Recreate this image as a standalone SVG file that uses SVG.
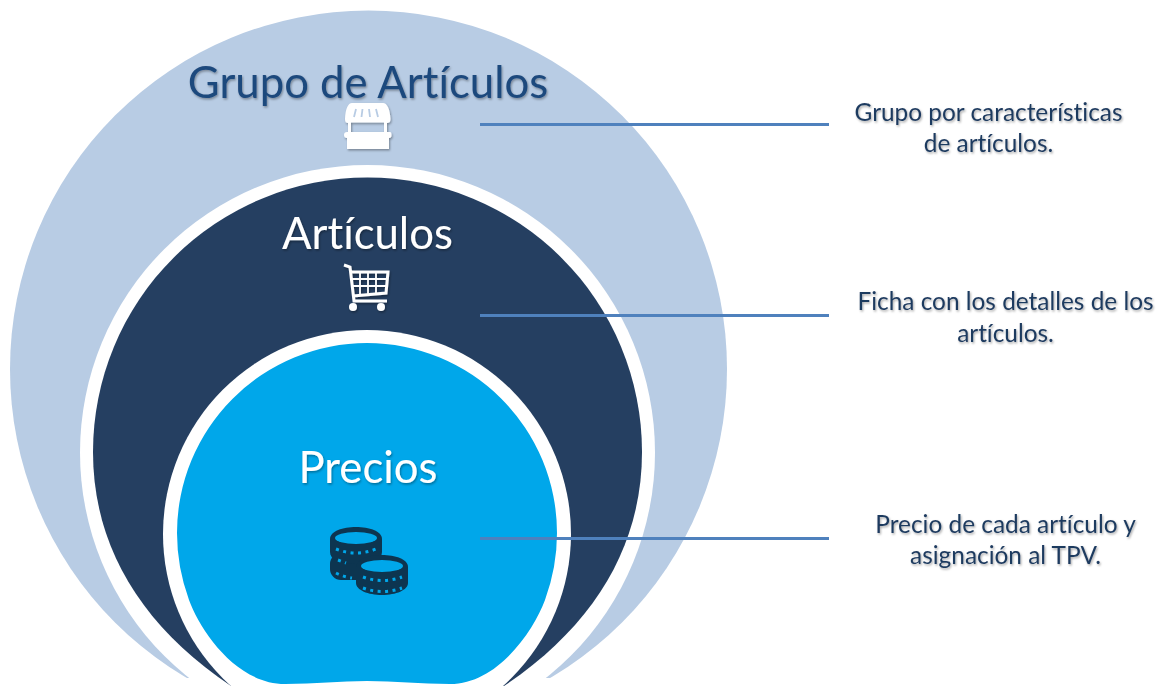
<svg xmlns="http://www.w3.org/2000/svg" width="1161" height="686" viewBox="0 0 1161 686">
<defs>
<style>
text{font-family:"Lato","Open Sans","Liberation Sans",sans-serif;text-anchor:middle;font-variant-ligatures:none}
.desc{font-size:24.400px;fill:#1f3a5f;filter:url(#ts)}
.big{font-size:43.700px;fill:#fff;filter:url(#ts)}
.conn{stroke:#4f81bd;stroke-width:3;fill:none}
.w{stroke:#fff;fill:none}
.c{fill:#0d3550}
.h{fill:#00a7ea}
</style>
<filter id="ts" x="-10%" y="-20%" width="120%" height="150%"><feDropShadow dx="1" dy="1.500" stdDeviation="1.200" flood-color="#000" flood-opacity=".35"/></filter>
</defs>
<rect width="1161" height="686" fill="#fff"/>
<g id="grupo">
<circle cx="368.500" cy="369" r="358.500" fill="#b8cce4"/>
<circle cx="367.500" cy="452.500" r="287.500" fill="#fff"/>
<rect x="100" y="678" width="540" height="8" fill="#fff"/>
<text class="big" x="368" y="97.500" style="fill:#1f497d">Grupo de Artículos</text>
<g id="icon-store" filter="url(#ts)" fill="#fff">
<path fill-rule="evenodd" d="M352 103H383C387 103 390 109 390.500 119C390.500 122 389 123 387 123V132H390C391 132 391.500 133 391.500 135C391.500 137 391 138 389 138V149H347V138C345 138 344 137 344 135C344 133 345 132 347 132H348V123C346 123 345 122 345 119C345.500 109 348 103 352 103ZM351 122.500V132H384V122.500Z"/>
<path stroke="#b8cce4" stroke-width="1.800" fill="none" d="M356 109l-2 8M362.500 109l-1 8M369 109l1 8M376 109l2 8"/>
</g>
</g>
<g id="articulos">
<path fill="#253f61" d="M93 452A274.500 274.500 0 0 1 642 452C642 545 595 625 504 686H231C140 625 93 545 93 452Z"/>
<circle cx="367" cy="534" r="204" fill="#fff"/>
<text class="big" x="367.500" y="249">Artículos</text>
<g id="icon-cart" filter="url(#ts)">
<path class="w" stroke-width="3" d="M344 265L350 267L354 301H387"/>
<path class="w" stroke-width="3" d="M351 272H388L386 293L353 296"/>
<path class="w" stroke-width="1.800" d="M352 279H387M352 286H387M360 272V295M368 272V295M376 272V294"/>
<circle cx="353" cy="307" r="4" fill="#fff"/><circle cx="381" cy="307" r="4" fill="#fff"/>
</g>
</g>
<g id="precios">
<path class="h" d="M177 533A190 190 0 0 1 557 533Q557 567 545 600C534 630 498 684 450 684C420 684 395 681 367 681C340 681 315 684 285 684C236 684 200 630 189 600Q177 567 177 533Z"/>
<text class="big" x="368" y="482.500">Precios</text>
<g id="icon-coins">
<rect class="c" x="330" y="553" width="55" height="27" rx="11"/>
<path class="c" d="M330 539C330 523 382 523 382 539V552C382 560 372 564 356 564C340 564 330 560 330 552Z"/>
<ellipse class="h" cx="356" cy="538" rx="21" ry="6"/>
<path class="c" d="M356 567C356 551 408 551 408 567V583C408 590 396 595 382 595C368 595 356 590 356 583Z"/>
<ellipse class="h" cx="382" cy="566" rx="21" ry="6"/>
<path stroke="#00a7ea" stroke-width="3" stroke-dasharray="3 4.500" fill="none" d="M336 549Q356 557 376 549M336 573Q344 577 352 578M363 577Q382 584 402 577M363 588Q382 595 402 588M338 560L346 563"/>
</g>
</g>
<g id="connectors">
<path class="conn" d="M480 124.500H829"/>
<path class="conn" d="M480 315.500H829"/>
<path class="conn" d="M480 538.500H829"/>
</g>
<g id="desc-1"><text class="desc" x="988.500" y="120.500">Grupo por características</text><text class="desc" x="988.500" y="152">de artículos.</text></g>
<g id="desc-2"><text class="desc" x="1005.500" y="310">Ficha con los detalles de los</text><text class="desc" x="1005.500" y="342">artículos.</text></g>
<g id="desc-3"><text class="desc" x="1005.500" y="533">Precio de cada artículo y</text><text class="desc" x="1005.500" y="564">asignación al TPV.</text></g>
</svg>
